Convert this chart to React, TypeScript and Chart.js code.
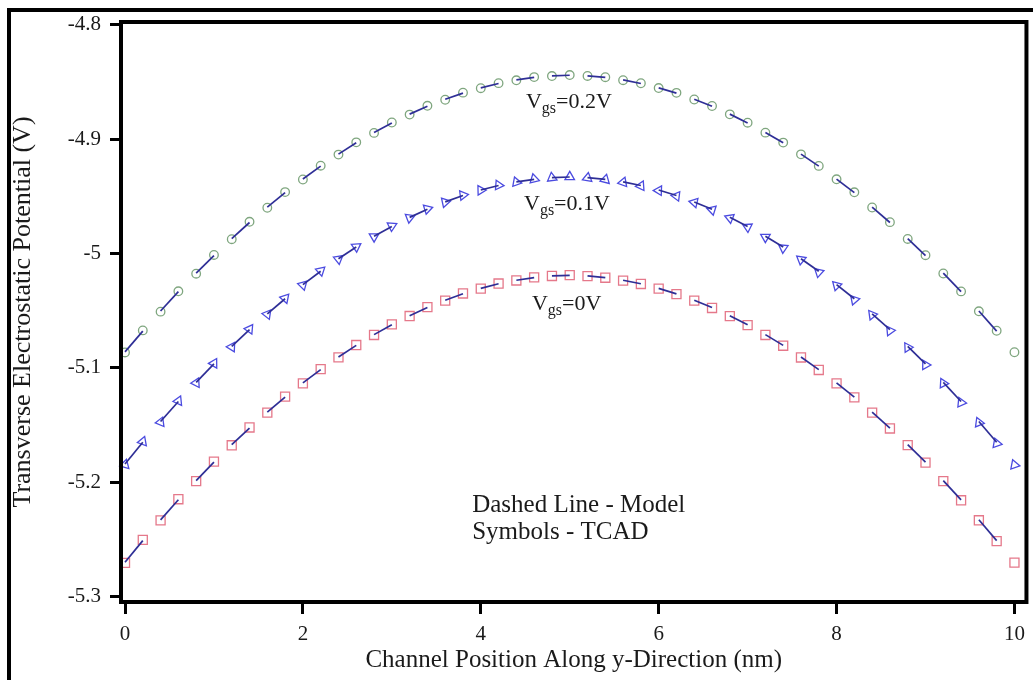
import { useEffect, useRef } from "react";
import { Chart, registerables } from "chart.js";

Chart.register(...registerables);

// Channel positions (nm) where the potential is sampled
const positions = [
  0, 0.2, 0.4, 0.6, 0.8, 1, 1.2, 1.4, 1.6, 1.8, 2, 2.2, 2.4, 2.6, 2.8, 3, 3.2, 3.4, 3.6, 3.8,
  4, 4.2, 4.4, 4.6, 4.8, 5, 5.2, 5.4, 5.6, 5.8, 6, 6.2, 6.4, 6.6, 6.8, 7, 7.2, 7.4, 7.6, 7.8,
  8, 8.2, 8.4, 8.6, 8.8, 9, 9.2, 9.4, 9.6, 9.8, 10,
];

// Analytical model (dashed lines), volts
const modelVgs02 = [
  -5.086, -5.0678, -5.0502, -5.0333, -5.0171, -5.0017, -4.9869, -4.9728, -4.9594, -4.9467,
  -4.9348, -4.9235, -4.913, -4.9031, -4.894, -4.8857, -4.878, -4.8711, -4.865, -4.8596,
  -4.855, -4.8512, -4.8481, -4.8459, -4.8445, -4.844, -4.8445, -4.8459, -4.8481, -4.8512,
  -4.855, -4.8596, -4.865, -4.8711, -4.878, -4.8857, -4.894, -4.9031, -4.913, -4.9235,
  -4.9348, -4.9467, -4.9594, -4.9728, -4.9869, -5.0017, -5.0171, -5.0333, -5.0502, -5.0678,
  -5.086,
];
const modelVgs01 = [
  -5.184, -5.1651, -5.1469, -5.1294, -5.1126, -5.0965, -5.0812, -5.0666, -5.0527, -5.0395,
  -5.0271, -5.0155, -5.0045, -4.9943, -4.9849, -4.9762, -4.9683, -4.9612, -4.9548, -4.9492,
  -4.9444, -4.9404, -4.9373, -4.935, -4.9335, -4.933, -4.9335, -4.935, -4.9373, -4.9404,
  -4.9444, -4.9492, -4.9548, -4.9612, -4.9683, -4.9762, -4.9849, -4.9943, -5.0045, -5.0155,
  -5.0271, -5.0395, -5.0527, -5.0666, -5.0812, -5.0965, -5.1126, -5.1294, -5.1469, -5.1651,
  -5.184,
];
const modelVgs00 = [
  -5.27, -5.2511, -5.2329, -5.2154, -5.1986, -5.1825, -5.1672, -5.1526, -5.1387, -5.1255,
  -5.1131, -5.1015, -5.0905, -5.0803, -5.0709, -5.0622, -5.0543, -5.0472, -5.0408, -5.0352,
  -5.0304, -5.0264, -5.0233, -5.021, -5.0195, -5.019, -5.0195, -5.021, -5.0233, -5.0264,
  -5.0304, -5.0352, -5.0408, -5.0472, -5.0543, -5.0622, -5.0709, -5.0803, -5.0905, -5.1015,
  -5.1131, -5.1255, -5.1387, -5.1526, -5.1672, -5.1825, -5.1986, -5.2154, -5.2329, -5.2511,
  -5.27,
];

// TCAD simulation (symbols), volts
const tcadVgs02 = [
  -5.0865, -5.0672, -5.0508, -5.033, -5.0176, -5.0012, -4.9874, -4.9722, -4.9599, -4.9462,
  -4.9352, -4.9231, -4.9134, -4.9027, -4.8944, -4.8853, -4.8784, -4.8707, -4.8654, -4.8592,
  -4.8553, -4.8509, -4.8484, -4.8456, -4.8447, -4.8438, -4.8446, -4.8457, -4.8483, -4.851,
  -4.8552, -4.8594, -4.8652, -4.8709, -4.8782, -4.8855, -4.8942, -4.9029, -4.9132, -4.9233,
  -4.935, -4.9464, -4.9597, -4.9725, -4.9872, -5.0014, -5.0174, -5.0331, -5.0505, -5.0675,
  -5.0863,
];
const tcadVgs01 = [
  -5.1846, -5.1645, -5.1475, -5.1289, -5.1131, -5.096, -5.0817, -5.0661, -5.0531, -5.0391,
  -5.0275, -5.0151, -5.0048, -4.994, -4.9852, -4.9759, -4.9686, -4.9609, -4.9551, -4.9489,
  -4.9446, -4.9402, -4.9375, -4.9348, -4.9337, -4.9329, -4.9338, -4.9353, -4.9377, -4.9408,
  -4.9449, -4.9497, -4.9553, -4.9618, -4.9689, -4.9768, -4.9856, -4.995, -5.0052, -5.0163,
  -5.0279, -5.0404, -5.0536, -5.0675, -5.0821, -5.0974, -5.1135, -5.1303, -5.1478, -5.166,
  -5.1848,
];
const tcadVgs00 = [
  -5.2706, -5.2505, -5.2334, -5.2149, -5.1991, -5.182, -5.1677, -5.1521, -5.1391, -5.1251,
  -5.1135, -5.1011, -5.0908, -5.08, -5.0712, -5.0619, -5.0546, -5.0469, -5.0411, -5.0349,
  -5.0306, -5.0262, -5.0235, -5.0208, -5.0196, -5.0189, -5.0197, -5.0211, -5.0236, -5.0266,
  -5.0307, -5.0355, -5.0412, -5.0476, -5.0547, -5.0626, -5.0712, -5.0806, -5.0909, -5.1018,
  -5.1135, -5.1258, -5.1391, -5.153, -5.1676, -5.1829, -5.199, -5.2158, -5.2333, -5.2515,
  -5.2704,
];

// Axis ticks
const xTickValues = [0, 2, 4, 6, 8, 10];
const xTickLabels = ["0", "2", "4", "6", "8", "10"];
const yTickValues = [-4.8, -4.9, -5, -5.1, -5.2, -5.3];
const yTickLabels = ["-4.8", "-4.9", "-5", "-5.1", "-5.2", "-5.3"];

// Curve captions: V with subscript gs, then the gate voltage
const curveCaptions = [
  { x: 4.508, y: -4.8726, value: "=0.2V" },
  { x: 4.486, y: -4.9619, value: "=0.1V" },
  { x: 4.575, y: -5.0493, value: "=0V" },
];
const noteLines = ["Dashed Line - Model", "Symbols - TCAD"];
const noteAnchor = { x: 3.903, y: -5.226 };

const SERIF = "'Liberation Serif', 'Times New Roman', serif";
const LINE_COLOR = "#2e2e96";
const GREEN = "#7fa67f";
const BLUE = "#4b4be0";
const PINK = "#e5788a";
const CLEAR = "rgba(255,255,255,0)";

const decorPlugin = {
  id: "decor",
  beforeDraw(chart: any) {
    const { ctx, width, height } = chart;
    ctx.save();
    ctx.fillStyle = "#ffffff";
    ctx.fillRect(0, 0, width, height);
    ctx.restore();
  },
  afterDatasetsDraw(chart: any) {
    const { ctx, chartArea: a, scales, width, height } = chart;
    ctx.save();
    // plot frame
    ctx.strokeStyle = "#000";
    ctx.lineWidth = 4;
    ctx.strokeRect(a.left, a.top, a.right - a.left, a.bottom - a.top);
    // figure border (top and left)
    ctx.fillStyle = "#000";
    ctx.fillRect(7, 8, width - 7, 4);
    ctx.fillRect(7, 8, 4, height - 8);

    // curve captions V_gs=...
    ctx.fillStyle = "#1a1a1a";
    ctx.textBaseline = "alphabetic";
    ctx.textAlign = "left";
    for (const c of curveCaptions) {
      let px = scales.x.getPixelForValue(c.x);
      const py = scales.y.getPixelForValue(c.y);
      ctx.font = `22px ${SERIF}`;
      ctx.fillText("V", px, py);
      px += ctx.measureText("V").width;
      ctx.font = `16px ${SERIF}`;
      ctx.fillText("gs", px, py + 5);
      px += ctx.measureText("gs").width;
      ctx.font = `22px ${SERIF}`;
      ctx.fillText(c.value, px, py);
    }

    // notes
    ctx.font = `25px ${SERIF}`;
    const nx = scales.x.getPixelForValue(noteAnchor.x);
    const ny = scales.y.getPixelForValue(noteAnchor.y);
    noteLines.forEach((t, i) => ctx.fillText(t, nx, ny + i * 27));
    ctx.restore();
  },
};

// Triangles turn with the local slope of their curve
function tangentRotation(values: number[]) {
  return (c: any) => {
    const i = c.dataIndex;
    const xs = c.chart.scales.x;
    const ys = c.chart.scales.y;
    if (!xs || !ys) return 0;
    const i0 = Math.max(0, i - 1);
    const i1 = Math.min(values.length - 1, i + 1);
    const dx = xs.getPixelForValue(positions[i1]) - xs.getPixelForValue(positions[i0]);
    const dy = ys.getPixelForValue(values[i1]) - ys.getPixelForValue(values[i0]);
    return (2 * Math.atan2(dy, dx) * 180) / Math.PI;
  };
}

const toPoints = (values: number[]) => positions.map((x, i) => ({ x, y: values[i] }));

// every other segment is left blank to give the dashed look
const alternate = (c: any) => (c.p0DataIndex % 2 === 0 ? LINE_COLOR : CLEAR);

export default function App() {
  const canvasRef = useRef<HTMLCanvasElement | null>(null);

  useEffect(() => {
    if (!canvasRef.current) return;
    const modelDataset = (values: number[]) => ({
      type: "line" as const,
      data: toPoints(values),
      borderColor: LINE_COLOR,
      borderWidth: 1.7,
      pointRadius: 0,
      fill: false,
      tension: 0,
      clip: false as const,
      segment: { borderColor: alternate },
    });
    const tcadDataset = (values: number[], style: string, color: string, radius: number, rot?: any) => ({
      type: "line" as const,
      data: toPoints(values),
      showLine: false,
      pointStyle: style,
      pointRadius: radius,
      pointBorderColor: color,
      pointBackgroundColor: CLEAR,
      pointBorderWidth: 1.3,
      pointRotation: rot ?? 0,
      clip: false as const,
    });

    const chart = new Chart(canvasRef.current, {
      type: "line",
      data: {
        datasets: [
          modelDataset(modelVgs02),
          modelDataset(modelVgs01),
          modelDataset(modelVgs00),
          tcadDataset(tcadVgs02, "circle", GREEN, 4.3),
          tcadDataset(tcadVgs01, "triangle", BLUE, 5.5, tangentRotation(tcadVgs01)),
          tcadDataset(tcadVgs00, "rect", PINK, 6.4),
        ] as any,
      },
      options: {
        animation: false,
        responsive: false,
        layout: { padding: { left: 0, top: 22, right: 4, bottom: 0 }, autoPadding: false } as any,
        plugins: { legend: { display: false }, tooltip: { enabled: false } },
        events: [],
        scales: {
          x: {
            type: "linear",
            min: -0.045,
            max: 10.135,
            afterBuildTicks: (s: any) => {
              s.ticks = xTickValues.map((v) => ({ value: v }));
            },
            afterFit: (s: any) => {
              s.height = 78;
            },
            border: { display: false },
            grid: {
              display: true,
              drawOnChartArea: false,
              drawTicks: true,
              tickLength: 12,
              tickWidth: 3,
              tickColor: "#000",
              color: "#000",
            },
            ticks: {
              autoSkip: false,
              maxRotation: 0,
              padding: 8,
              color: "#1a1a1a",
              font: { family: SERIF, size: 21 },
              callback: (_v: any, i: number) => xTickLabels[i],
            },
            title: {
              display: true,
              text: "Channel Position Along y-Direction (nm)",
              color: "#1a1a1a",
              font: { family: SERIF, size: 25 },
              padding: { top: 0, bottom: 5 },
            },
          },
          y: {
            type: "linear",
            min: -5.3048,
            max: -4.7974,
            afterBuildTicks: (s: any) => {
              s.ticks = yTickValues.map((v) => ({ value: v }));
            },
            afterFit: (s: any) => {
              s.width = 121;
            },
            border: { display: false },
            grid: {
              display: true,
              drawOnChartArea: false,
              drawTicks: true,
              tickLength: 11,
              tickWidth: 3,
              tickColor: "#000",
              color: "#000",
            },
            ticks: {
              autoSkip: false,
              padding: 9,
              color: "#1a1a1a",
              font: { family: SERIF, size: 21 },
              callback: (_v: any, i: number) => yTickLabels[i],
            },
            title: {
              display: true,
              text: "Transverse Electrostatic Potential (V)",
              color: "#1a1a1a",
              font: { family: SERIF, size: 26 },
              padding: { top: 8, bottom: 0 },
            },
          },
        },
      },
      plugins: [decorPlugin],
    });
    return () => chart.destroy();
  }, []);

  return (
    <div style={{ position: "absolute", left: 0, top: 0, width: 1033, height: 680, background: "#fff" }}>
      <canvas ref={canvasRef} width={1033} height={680} style={{ display: "block" }} />
    </div>
  );
}
